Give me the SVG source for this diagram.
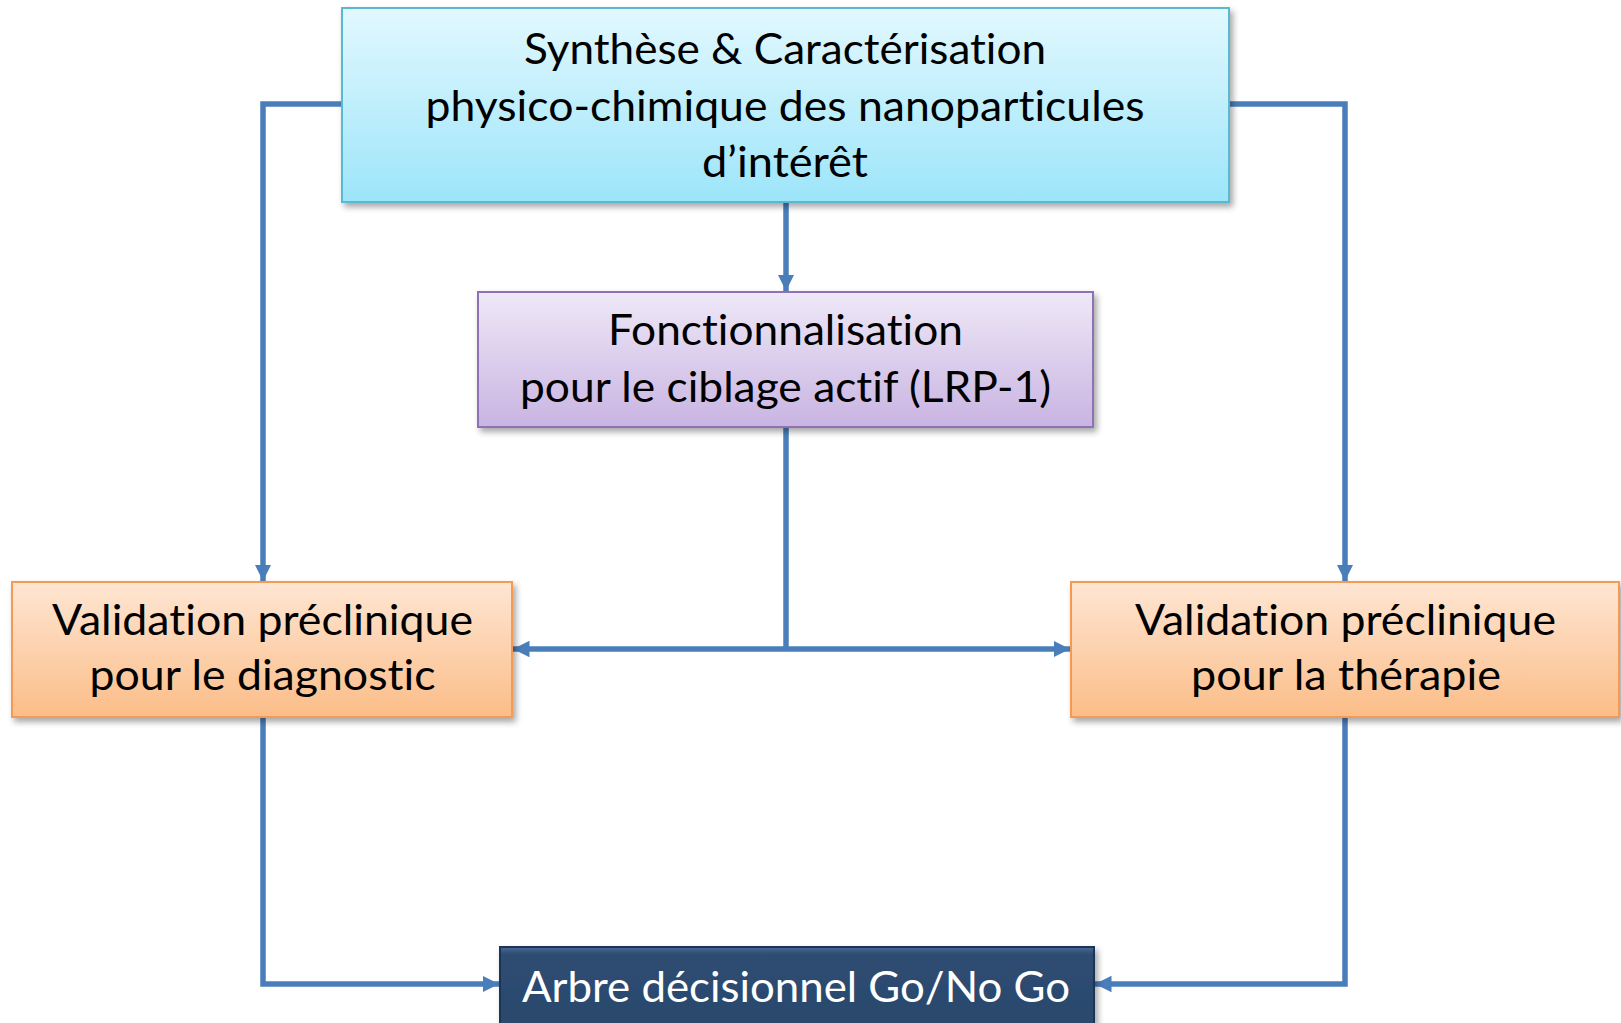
<svg xmlns="http://www.w3.org/2000/svg" width="1621" height="1023" viewBox="0 0 1621 1023">
<defs>
<linearGradient id="gBlue" x1="0" y1="0" x2="0" y2="1"><stop offset="0" stop-color="#e2f8fe"/><stop offset="1" stop-color="#9de5fa"/></linearGradient>
<linearGradient id="gPurple" x1="0" y1="0" x2="0" y2="1"><stop offset="0" stop-color="#eee8f7"/><stop offset="1" stop-color="#c9b4e2"/></linearGradient>
<linearGradient id="gOrange" x1="0" y1="0" x2="0" y2="1"><stop offset="0" stop-color="#fee6d3"/><stop offset="1" stop-color="#fbbd88"/></linearGradient>
<linearGradient id="gDark" x1="0" y1="0" x2="0" y2="1"><stop offset="0" stop-color="#4a6a93"/><stop offset="0.08" stop-color="#2e4c72"/><stop offset="0.92" stop-color="#2b486c"/><stop offset="1" stop-color="#22395a"/></linearGradient>
<filter id="sh" x="-5%" y="-10%" width="110%" height="125%"><feDropShadow dx="3" dy="4" stdDeviation="3" flood-color="#000" flood-opacity="0.35"/></filter>
<marker id="ah" viewBox="0 0 10 10" refX="10" refY="5" markerWidth="3" markerHeight="3" orient="auto" markerUnits="strokeWidth"><path d="M0,0 L10,5 L0,10 z" fill="#4a7ebb"/></marker>
</defs>
<style>
.t{font-family:"Lato","Open Sans","Liberation Sans",sans-serif;font-size:42px;fill:#000;text-anchor:middle;font-variant-ligatures:none;font-feature-settings:"liga" 0,"clig" 0,"dlig" 0}
.w{fill:#fff}
.c{fill:none;stroke:#4a7ebb;stroke-width:5.5}
</style>
<g id="connectors">
<path class="c" d="M786,202 L786,291" marker-end="url(#ah)"/>
<path class="c" d="M342,104 L263,104 L263,581" marker-end="url(#ah)"/>
<path class="c" d="M1229,104 L1345,104 L1345,581" marker-end="url(#ah)"/>
<path class="c" d="M786,427 L786,649"/>
<path class="c" d="M786,649 L513,649" marker-end="url(#ah)"/>
<path class="c" d="M786,649 L1070,649" marker-end="url(#ah)"/>
<path class="c" d="M263,717 L263,984 L499,984" marker-end="url(#ah)"/>
<path class="c" d="M1345,717 L1345,984 L1095,984" marker-end="url(#ah)"/>
</g>
<g id="n1">
<rect x="342" y="8" width="887" height="194" fill="url(#gBlue)" stroke="#5ab9d2" stroke-width="2" filter="url(#sh)"/>
<text class="t" x="785" y="64" textLength="522" lengthAdjust="spacingAndGlyphs">Synthèse &amp; Caractérisation</text>
<text class="t" x="785" y="121" textLength="719" lengthAdjust="spacingAndGlyphs">physico-chimique des nanoparticules</text>
<text class="t" x="785" y="177" textLength="166" lengthAdjust="spacingAndGlyphs">d’intérêt</text>
</g>
<g id="n2">
<rect x="478" y="292" width="615" height="135" fill="url(#gPurple)" stroke="#8e72b4" stroke-width="2" filter="url(#sh)"/>
<text class="t" x="785.5" y="345" textLength="355" lengthAdjust="spacingAndGlyphs">Fonctionnalisation</text>
<text class="t" x="785.5" y="402" textLength="531" lengthAdjust="spacingAndGlyphs">pour le ciblage actif (LRP-1)</text>
</g>
<g id="n3">
<rect x="12" y="582" width="500" height="135" fill="url(#gOrange)" stroke="#f59a52" stroke-width="2" filter="url(#sh)"/>
<text class="t" x="262.5" y="635" textLength="421" lengthAdjust="spacingAndGlyphs">Validation préclinique</text>
<text class="t" x="262.5" y="690" textLength="346" lengthAdjust="spacingAndGlyphs">pour le diagnostic</text>
</g>
<g id="n4">
<rect x="1071" y="582" width="548" height="135" fill="url(#gOrange)" stroke="#f59a52" stroke-width="2" filter="url(#sh)"/>
<text class="t" x="1345.5" y="635" textLength="421" lengthAdjust="spacingAndGlyphs">Validation préclinique</text>
<text class="t" x="1346" y="690" textLength="310" lengthAdjust="spacingAndGlyphs">pour la thérapie</text>
</g>
<g id="n5">
<rect x="500" y="947" width="594" height="90" fill="url(#gDark)" stroke="#1f3656" stroke-width="2" filter="url(#sh)"/>
<text class="t w" x="796" y="1002" textLength="548" lengthAdjust="spacingAndGlyphs">Arbre décisionnel Go/No Go</text>
</g>
</svg>
